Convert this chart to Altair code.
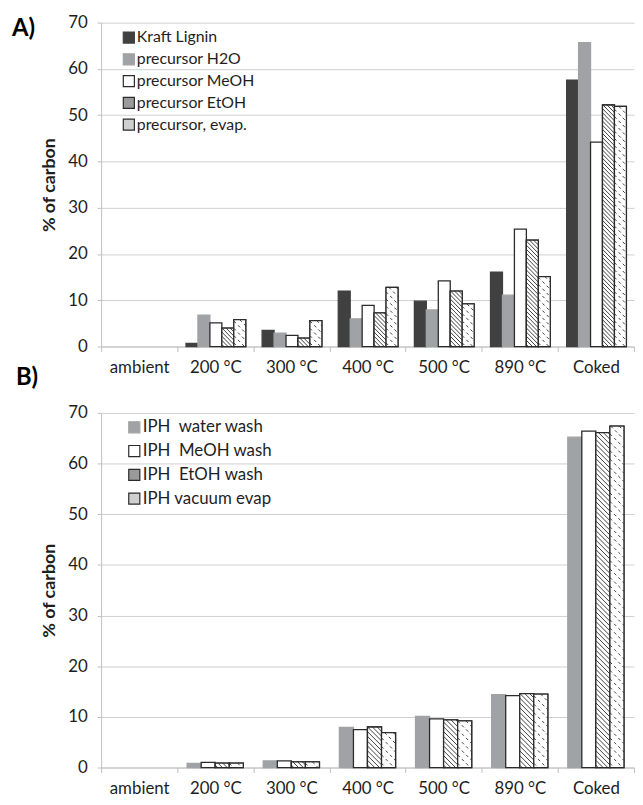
import json
import altair as alt
import pandas as pd

categories = ["ambient", "200 °C", "300 °C", "400 °C", "500 °C", "890 °C", "Coked"]

# Panel A
series_a = ["Kraft Lignin", "precursor H2O", "precursor MeOH", "precursor EtOH", "precursor, evap."]
kraft_lignin = [None, 0.7, 3.5, 12.0, 9.8, 16.1, 57.6]
precursor_h2o = [None, 6.8, 2.9, 6.0, 7.9, 11.1, 65.7]
precursor_meoh = [None, 5.1, 2.4, 8.9, 14.2, 25.4, 44.2]
precursor_etoh = [None, 4.0, 1.8, 7.3, 12.0, 23.0, 52.2]
precursor_evap = [None, 5.8, 5.6, 12.8, 9.2, 15.1, 51.9]

# Panel B
series_b = ["IPH\u00a0 water wash", "IPH\u00a0 MeOH wash", "IPH\u00a0 EtOH wash", "IPH vacuum evap"]
iph_water = [None, 0.8, 1.3, 7.9, 10.1, 14.4, 65.2]
iph_meoh = [None, 1.0, 1.3, 7.5, 9.6, 14.2, 66.4]
iph_etoh = [None, 0.85, 1.1, 8.0, 9.4, 14.6, 66.1]
iph_evap = [None, 0.85, 1.1, 6.9, 9.2, 14.5, 67.4]

FONT = "Lato"
TXT = "#1e1e1e"
AXC = "#bfbfbf"


def make_df(names, lists):
    rows = []
    for j, (name, vals) in enumerate(zip(names, lists)):
        for i, v in enumerate(vals):
            if v is None:
                continue
            rows.append({"cat": categories[i], "i": i, "j": j, "series": name, "value": v})
    return pd.DataFrame(rows)


def panel(df, names, fills, strokes, hatch_dense, hatch_dash, off, bw, d, width, height,
          label, title_dx, title_dy, legend_x, legend_y, legend_fs):
    xscale = alt.Scale(domain=[0, 7], nice=False, zero=False)
    yscale = alt.Scale(domain=[0, 70], nice=False)
    cats_js = json.dumps(categories, ensure_ascii=False)
    xaxis = alt.Axis(
        values=[k / 2 for k in range(15)],
        labelExpr=f"datum.value % 1 == 0.5 ? {cats_js}[floor(datum.value)] : ''",
        tickColor={"condition": {"test": "datum.value % 1 == 0", "value": AXC}, "value": "transparent"},
        grid=False, title=None, domainColor=AXC, tickSize=5, labelPadding=8,
        labelFlush=False, labelOverlap=False, labelFontSize=17, labelColor=TXT, labelFont=FONT,
    )
    yaxis = alt.Axis(
        values=list(range(0, 71, 10)), title="% of carbon", tickSize=4, tickColor=AXC,
        domainColor=AXC, gridColor="#cfcfcf", labelPadding=10, titlePadding=9,
        titleFontSize=18, titleFontWeight="bold", titleFont=FONT, titleColor=TXT,
        labelFontSize=17, labelFont=FONT, labelColor=TXT,
    )
    base = alt.Chart(df).transform_calculate(
        x0=f"datum.i + {off} + datum.j * {bw}",
        x1=f"datum.i + {off} + (datum.j + 1) * {bw}",
        zero="0",
    )
    leg = alt.Legend(
        title=None, orient="none", legendX=legend_x, legendY=legend_y,
        symbolType="square", symbolSize=125, symbolStrokeWidth=1.2,
        labelFontSize=legend_fs, labelFont=FONT, labelColor=TXT, rowPadding=6, labelOffset=0,
    )
    X = lambda f: alt.X(f, scale=xscale, axis=xaxis)
    Y = lambda f: alt.Y(f, scale=yscale, axis=yaxis)
    bars = base.mark_rect(strokeWidth=1.3).encode(
        x=X("x0:Q"), x2="x1:Q", y=Y("value:Q"), y2="zero:Q",
        fill=alt.Fill("series:N", scale=alt.Scale(domain=names, range=fills), legend=leg, sort=names),
        stroke=alt.Stroke("series:N", scale=alt.Scale(domain=names, range=strokes), legend=leg, sort=names),
    )
    hatched = [hatch_dense, hatch_dash]
    test = " || ".join(f"datum.series == '{h}'" for h in hatched)
    white = base.transform_filter(test).mark_rect(fill="white", stroke="#2b2b2b", strokeWidth=1.3).encode(
        x=X("x0:Q"), x2="x1:Q", y=Y("value:Q"), y2="zero:Q",
    )

    def hatch(series, step, dash):
        h = base.transform_filter(f"datum.series == '{series}'").transform_calculate(
            c=f"sequence({step / 2}, datum.value + {d}, {step})"
        ).transform_flatten(["c"]).transform_calculate(
            t1=f"max(0, (datum.c - datum.value) / {d})",
            t2=f"min(1, datum.c / {d})",
        ).transform_filter("datum.t2 > datum.t1").transform_calculate(
            hx1=f"datum.x0 + datum.t1 * {bw}",
            hx2=f"datum.x0 + datum.t2 * {bw}",
            hy1=f"datum.c - datum.t1 * {d}",
            hy2=f"datum.c - datum.t2 * {d}",
        )
        kw = dict(color="#2b2b2b", strokeWidth=0.9)
        if dash:
            kw["strokeDash"] = dash
        return h.mark_rule(**kw).encode(x=X("hx1:Q"), x2="hx2:Q", y=Y("hy1:Q"), y2="hy2:Q")

    return alt.layer(
        bars, white, hatch(hatch_dense, d * 0.34, None), hatch(hatch_dash, d * 0.6, [3, 3]),
    ).properties(
        width=width, height=height,
        title=alt.TitleParams(label, anchor="start", frame="group", fontSize=24, fontWeight="bold",
                              font=FONT, color="#000000", dx=title_dx, dy=title_dy, offset=0),
    )


df_a = make_df(series_a, [kraft_lignin, precursor_h2o, precursor_meoh, precursor_etoh, precursor_evap])
df_b = make_df(series_b, [iph_water, iph_meoh, iph_etoh, iph_evap])

chart_a = panel(
    df_a, series_a,
    ["#404040", "#a0a2a5", "#ffffff", "#9a9a9a", "#cfcfcf"],
    ["#404040", "#a0a2a5", "#2b2b2b", "#2b2b2b", "#2b2b2b"],
    series_a[3], series_a[4], 0.115, 0.157, 2.63, 538, 327,
    "A)", -90, 27, 20, 7, 16,
)
chart_b = panel(
    df_b, series_b,
    ["#a0a2a5", "#ffffff", "#9a9a9a", "#cfcfcf"],
    ["#a0a2a5", "#2b2b2b", "#2b2b2b", "#2b2b2b"],
    series_b[2], series_b[3], 0.13, 0.1845, 2.78, 538, 358,
    "B)", -86, -14, 25, 6, 17,
)

chart = alt.vconcat(chart_a, chart_b, spacing=67, bounds="flush").resolve_scale(
    fill="independent", stroke="independent"
).resolve_legend(fill="independent", stroke="independent").properties(
    padding={"left": 4, "top": 2, "right": 0, "bottom": 0}
).configure(
    background="white", font=FONT
).configure_view(stroke=None)

chart.save("out.html", embed_options={"renderer": "svg", "actions": False})
